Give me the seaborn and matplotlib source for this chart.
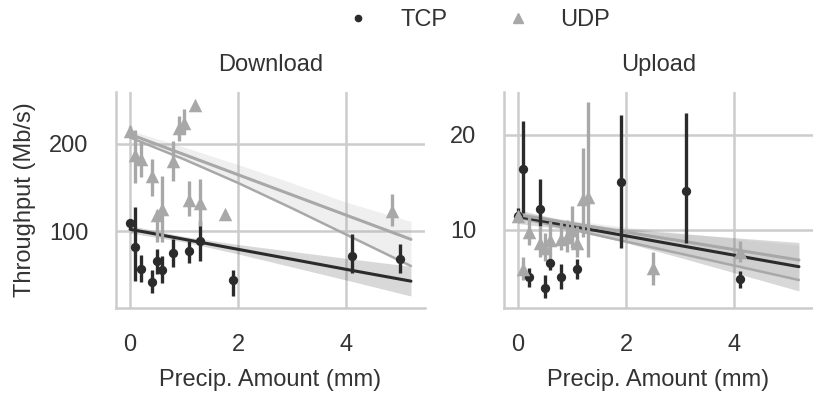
import numpy as np
import pandas as pd
import matplotlib
matplotlib.use("Agg")
import matplotlib.pyplot as plt
from matplotlib.lines import Line2D
import seaborn as sns

protocols = ["TCP", "UDP"]
directions = ["Download", "Upload"]

# Per-precipitation summaries: mean throughput and its 95% interval (Mb/s)
dl_tcp_x = [0.0, 0.1, 0.2, 0.4, 0.5, 0.6, 0.8, 1.1, 1.3, 1.9, 4.1, 5.0]
dl_tcp_mean = [109, 82, 57, 42, 66, 56, 75, 77, 89, 44, 71, 68]
dl_tcp_lo = [105, 43, 42, 29, 51, 41, 59, 64, 66, 26, 52, 52]
dl_tcp_hi = [113, 127, 73, 55, 79, 72, 91, 89, 111, 56, 97, 85]

dl_udp_x = [0.0, 0.1, 0.2, 0.4, 0.5, 0.6, 0.8, 0.9, 1.0, 1.1, 1.2, 1.3, 1.75, 4.85]
dl_udp_mean = [214, 187, 182, 163, 118, 125, 180, 218, 224, 136, 244, 132, 119, 123]
dl_udp_lo = [208, 155, 162, 140, 88, 87, 157, 203, 211, 117, 244, 106, 119, 106]
dl_udp_hi = [220, 216, 203, 182, 124, 163, 203, 232, 239, 157, 244, 159, 119, 142]

ul_tcp_x = [0.0, 0.1, 0.2, 0.4, 0.5, 0.6, 0.8, 1.1, 1.9, 3.1, 4.1]
ul_tcp_mean = [11.5, 16.4, 5.1, 12.2, 3.9, 6.5, 5.1, 5.9, 15.0, 14.1, 4.9]
ul_tcp_lo = [10.8, 11.8, 4.0, 10.4, 2.8, 5.8, 3.8, 4.9, 8.1, 8.6, 3.9]
ul_tcp_hi = [12.3, 21.4, 6.0, 15.4, 5.3, 7.0, 6.4, 6.9, 22.1, 22.3, 5.7]

ul_udp_x = [0.0, 0.1, 0.2, 0.4, 0.5, 0.6, 0.8, 0.9, 1.0, 1.1, 1.2, 1.3, 2.5, 4.1]
ul_udp_mean = [11.5, 5.9, 9.8, 8.6, 8.1, 8.9, 9.1, 9.3, 10.0, 8.6, 13.3, 13.5, 6.0, 7.7]
ul_udp_lo = [11.0, 4.7, 8.4, 7.2, 6.7, 6.7, 7.9, 7.7, 8.1, 7.2, 9.3, 7.2, 4.2, 6.6]
ul_udp_hi = [12.0, 7.2, 11.4, 10.4, 9.7, 10.9, 10.9, 11.1, 12.5, 10.4, 18.6, 23.5, 7.7, 8.8]

# Linear fits with their confidence bands, evaluated along precipitation
fit_x = [0, 1, 2, 3, 4, 5.2]
dl_tcp_fit = [102, 90.6, 79.1, 67.7, 56.2, 42.7]
dl_tcp_band_lo = [97.7, 87.5, 73.8, 58.9, 44.0, 25.7]
dl_tcp_band_hi = [106.3, 93.7, 84.6, 76.7, 68.8, 59.7]
dl_udp_fit = [210.6, 187.5, 164.4, 141.3, 118.2, 90.5]
dl_udp_band_lo = [207, 182, 155, 126, 96, 60]
dl_udp_band_hi = [215, 196, 176, 155, 133, 111]

ul_tcp_fit = [11.4, 10.39, 9.38, 8.36, 7.35, 6.14]
ul_tcp_band_lo = [10.68, 9.99, 8.66, 7.10, 5.51, 3.59]
ul_tcp_band_hi = [12.12, 10.79, 10.10, 9.62, 9.19, 8.69]
ul_udp_fit = [11.6, 10.69, 9.77, 8.86, 7.94, 6.84]
ul_udp_band_lo = [11.3, 10.04, 8.78, 7.52, 6.26, 4.74]
ul_udp_band_hi = [11.9, 11.0, 10.3, 9.7, 9.1, 8.4]

points = {
    ("Download", "TCP"): (dl_tcp_x, dl_tcp_mean, dl_tcp_lo, dl_tcp_hi),
    ("Download", "UDP"): (dl_udp_x, dl_udp_mean, dl_udp_lo, dl_udp_hi),
    ("Upload", "TCP"): (ul_tcp_x, ul_tcp_mean, ul_tcp_lo, ul_tcp_hi),
    ("Upload", "UDP"): (ul_udp_x, ul_udp_mean, ul_udp_lo, ul_udp_hi),
}
fits = {
    ("Download", "TCP"): (dl_tcp_fit, dl_tcp_band_lo, dl_tcp_band_hi),
    ("Download", "UDP"): (dl_udp_fit, dl_udp_band_lo, dl_udp_band_hi),
    ("Upload", "TCP"): (ul_tcp_fit, ul_tcp_band_lo, ul_tcp_band_hi),
    ("Upload", "UDP"): (ul_udp_fit, ul_udp_band_lo, ul_udp_band_hi),
}

sns.set_theme(style="whitegrid")
plt.rcParams["font.family"] = ["Liberation Sans", "DejaVu Sans"]
plt.rcParams.update({
    "axes.edgecolor": "#cccccc",
    "grid.color": "#cccccc",
    "axes.linewidth": 1.8,
    "grid.linewidth": 1.8,
    "text.color": "#333333",
    "axes.labelcolor": "#333333",
    "xtick.color": "#333333",
    "ytick.color": "#333333",
    "font.size": 17,
})

palette = {"TCP": "#2b2b2b", "UDP": "#a8a8a8"}
markers = {"TCP": "o", "UDP": "^"}
msize = {"TCP": 45, "UDP": 95}

fig, axes = plt.subplots(1, 2, figsize=(8.13, 3.93), dpi=100)
fig.subplots_adjust(left=116 / 813, right=1.0, bottom=1 - 308 / 393,
                    top=1 - 92 / 393, wspace=79 / 309)

ylims = {"Download": (12, 259), "Upload": (1.8, 24.5)}
yticks = {"Download": [100, 200], "Upload": [10, 20]}

for ax, direction in zip(axes, directions):
    for proto in protocols:
        color = palette[proto]
        x, mean, lo, hi = points[(direction, proto)]
        df = pd.DataFrame({"x": x, "y": mean})
        ax.vlines(x, lo, hi, color=color, linewidth=2.4, zorder=3)
        sns.scatterplot(data=df, x="x", y="y", ax=ax, color=color,
                        marker=markers[proto], s=msize[proto],
                        linewidth=0, zorder=4, legend=False)
        fit, band_lo, band_hi = fits[(direction, proto)]
        fdf = pd.DataFrame({"x": fit_x, "y": fit})
        ax.fill_between(fit_x, band_lo, band_hi, color=color, alpha=0.18,
                        linewidth=0, zorder=2)
        if proto == "UDP":
            ax.plot(fit_x, band_lo, color=color, linewidth=1.8, zorder=2.5)
        sns.lineplot(data=fdf, x="x", y="y", ax=ax, color=color,
                     linewidth=2.2, zorder=2.6, legend=False)
    ax.set_xlim(-0.26, 5.46)
    ax.set_ylim(*ylims[direction])
    ax.set_xticks([0, 2, 4])
    ax.set_yticks(yticks[direction])
    ax.set_title(direction, fontsize=17, pad=15)
    ax.set_xlabel("Precip. Amount (mm)", fontsize=17, labelpad=9)
    ax.set_ylabel("")
    ax.tick_params(axis="y", pad=14, labelsize=17)
    ax.tick_params(axis="x", pad=13, labelsize=17)
    sns.despine(ax=ax)

axes[0].set_ylabel("Throughput (Mb/s)", fontsize=17, labelpad=9)

handles = [
    Line2D([], [], linestyle="none", marker=markers[p], color=palette[p],
           markersize=(4.5 if p == "TCP" else 6.5), label=p)
    for p in protocols
]
fig.legend(handles=handles, loc="upper center", bbox_to_anchor=(472 / 813, 1.03),
           ncol=2, frameon=False, fontsize=17, columnspacing=2.0,
           handletextpad=0.8)

fig.savefig("out.png", dpi=100)
